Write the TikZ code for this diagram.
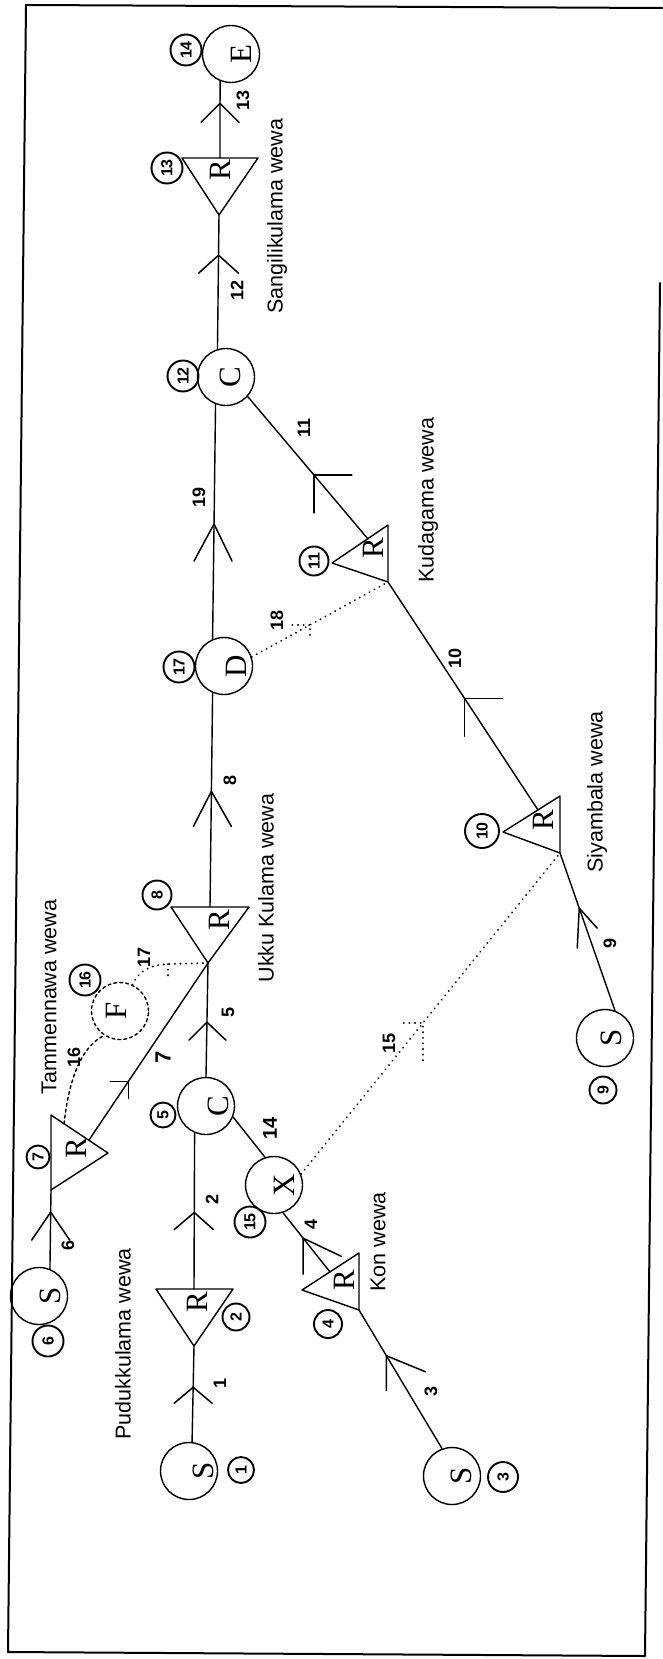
\documentclass[tikz,border=0pt]{standalone}
\usepackage{fontspec}
\setmainfont{Liberation Serif}
\setsansfont{Liberation Sans}
\newcommand{\cltr}[2]{\hspace*{#1}\rotatebox{90}{#2}}
\begin{document}
\begin{tikzpicture}[x=1pt,y=-1pt,line cap=round,line join=round,
  nd/.style={circle,draw,line width=1.4pt,minimum size=57pt,inner sep=0pt,font=\fontsize{31pt}{31pt}\selectfont},
  numc/.style={circle,draw,line width=1.9pt,minimum size=31pt,inner sep=0pt,font=\sffamily\bfseries\fontsize{16pt}{16pt}\selectfont,rotate=90},
  elab/.style={font=\sffamily\bfseries\fontsize{18pt}{18pt}\selectfont,rotate=90,inner sep=0pt},
  lake/.style={font=\sffamily\fontsize{21.5pt}{24pt}\selectfont,rotate=90,inner sep=0pt},
  rlet/.style={font=\fontsize{31pt}{31pt}\selectfont,rotate=90,inner sep=0pt},
  ln/.style={line width=1.4pt},
  chev/.style={line width=1.5pt},
  dotl/.style={line width=2pt,dash pattern=on 0.1pt off 5.5pt,line cap=round},
  dsh/.style={line width=1.4pt,dash pattern=on 3pt off 3pt}]
\useasboundingbox (0,0) rectangle (663,1659);
% frame
\draw[line width=2pt] (26,5) -- (662,8);
\draw[line width=2pt] (660,283) -- (645,1656) -- (8,1652) -- (26,5);

% circle nodes
\node[nd] (e14) at (231,54) {\cltr{20pt}{E}};
\node[nd] (c12) at (226,377) {\cltr{8pt}{C}};
\node[nd] (d17) at (224,666) {\cltr{24pt}{D}};
\node[nd] (s9) at (605,1038) {\cltr{12pt}{S}};
\node[nd,dsh] (f16) at (120,1011) {\cltr{-8pt}{F}};
\node[nd] (c5) at (206,1106) {\cltr{24pt}{C}};
\node[nd] (x15) at (274,1185) {\cltr{20pt}{X}};
\node[nd] (s6) at (39,1296) {\cltr{22pt}{S}};
\node[nd] (s1) at (189,1471) {\cltr{28pt}{S}};
\node[nd] (s3) at (452,1476) {\cltr{18pt}{S}};

% triangles
\coordinate (r13l) at (182,158); \coordinate (r13r) at (258,158); \coordinate (r13a) at (219,215); \coordinate (r13t) at (220,158);
\draw[ln] (r13l) -- (r13r) -- (r13a) -- cycle;
\node[rlet] (r13) at (220,170) {R};
\coordinate (r11a) at (332,563); \coordinate (r11t) at (388,525); \coordinate (r11c) at (388,582); \coordinate (r11e) at (368,539);
\draw[ln] (r11a) -- (r11t) -- (r11c) -- cycle;
\node[rlet] (r11) at (373,548) {R};
\coordinate (r10a) at (503,832); \coordinate (r10t) at (560,796); \coordinate (r10c) at (560,853); \coordinate (r10e) at (538,810);
\draw[ln] (r10a) -- (r10t) -- (r10c) -- cycle;
\node[rlet] (r10) at (543,820) {R};
\coordinate (r8l) at (171,907); \coordinate (r8r) at (249,907); \coordinate (r8a) at (208,963); \coordinate (r8t) at (210,907);
\draw[ln] (r8l) -- (r8r) -- (r8a) -- cycle;
\node[rlet] (r8) at (219,920) {R};
\coordinate (r7t) at (51,1115); \coordinate (r7p) at (108,1153); \coordinate (r7c) at (51,1190); \coordinate (r7e) at (89,1140); \coordinate (r7s) at (64,1124);
\draw[ln] (r7t) -- (r7p) -- (r7c) -- cycle;
\node[rlet] (r7) at (76,1148) {R};
\coordinate (r2l) at (156,1289); \coordinate (r2r) at (233,1289); \coordinate (r2a) at (194,1346); \coordinate (r2t) at (194,1289);
\draw[ln] (r2l) -- (r2r) -- (r2a) -- cycle;
\node[rlet] (r2) at (197,1302) {R};
\coordinate (r4t) at (359,1253); \coordinate (r4a) at (302,1290); \coordinate (r4c) at (359,1310); \coordinate (r4e) at (330,1272);
\draw[ln] (r4t) -- (r4a) -- (r4c) -- cycle;
\node[rlet] (r4) at (344,1280) {R};

% circled numbers
\node[numc] (l14) at (186,50) {14};
\node[numc] (l13) at (167,168) {13};
\node[numc] (l12) at (183,376) {12};
\node[numc] (l17) at (179,667) {17};
\node[numc,minimum size=29pt] (l11) at (314,561) {11};
\node[numc,minimum size=34pt] (l10) at (482,831) {10};
\node[numc,minimum size=27pt] (l9) at (603,1090) {9};
\node[numc,minimum size=29pt] (l8) at (157,895) {8};
\node[numc] (l16) at (85,980) {16};
\node[numc,minimum size=23pt] (l7) at (38,1157) {7};
\node[numc,minimum size=25pt] (l5) at (163,1115) {5};
\node[numc] (l15) at (250,1222) {15};
\node[numc] (l6) at (48,1341) {6};
\node[numc,minimum size=27pt] (l2) at (236,1317) {2};
\node[numc,minimum size=28pt] (l4) at (328,1324) {4};
\node[numc,minimum size=26pt] (l1) at (241,1470) {1};
\node[numc,minimum size=30pt] (l3) at (503,1477) {3};

% solid edges with flow marks
\draw[ln] (r13t) -- (e14.248) coordinate[pos=0.71] (k13);
\draw[chev] (k13) ++(-19,19) -- (k13) -- ++(19,19);
\draw[ln] (r13a) -- (c12.107) coordinate[pos=0.30] (k12);
\draw[chev] (k12) ++(-20,18) -- (k12) -- ++(20,18);
\draw[ln] (d17.113) -- (c12.249) coordinate[pos=0.49] (k19);
\draw[chev] (k19) ++(-20,37) -- (k19) -- ++(18,37);
\draw[ln] (r8t) -- (d17.247) coordinate[pos=0.54] (k8);
\draw[chev] (k8) ++(-18,35) -- (k8) -- ++(20,35);
\draw[ln] (c5.north) -- (r8a) coordinate[pos=0.48] (k5);
\draw[chev] (k5) ++(-18,18) -- (k5) -- ++(19,18);
\draw[ln] (r7e) -- (r8a) coordinate[pos=0.33] (k7);
\draw[chev] (k7) ++(-18,0) -- (k7) -- ++(0,17);
\draw[ln] (s6.68) -- (r7c) coordinate[pos=0.72] (k6);
\draw[chev] (k6) ++(-19,28) -- (k6) -- ++(19,28);
\draw[ln] (r2t) -- (c5.247) coordinate[pos=0.49] (k2);
\draw[chev] (k2) ++(-20,17) -- (k2) -- ++(19,17);
\draw[ln] (s1.84) -- (r2a) coordinate[pos=0.57] (k1);
\draw[chev] (k1) ++(-19,16) -- (k1) -- ++(19,16);
\draw[ln] (c5.-22) -- (x15.108);
\draw[ln] (r4e) -- (x15.-72) coordinate[pos=0.57] (k4);
\draw[chev] (k4) ++(0,36) -- (k4) -- ++(38,18);
\draw[ln] (s3.110) -- (r4c) coordinate[pos=0.67] (k3);
\draw[chev] (k3) ++(0,35) -- (k3) -- ++(39,16);
\draw[ln] (r11e) -- (c12.-42) coordinate[pos=0.45] (k11);
\draw[chev] (k11) ++(38,0) -- (k11) -- ++(0,38);
\draw[ln] (r10e) -- (r11c) coordinate[pos=0.49] (k10);
\draw[chev] (k10) ++(38,0) -- (k10) -- ++(0,38);
\draw[ln] (s9.70) -- (r10c) coordinate[pos=0.65] (k9);
\draw[chev] (k9) ++(-2,40) -- (k9) -- ++(18,20);

% dotted / dashed edges
\draw[dotl] (d17.18) -- (r11c) coordinate[pos=0.43] (k18);
\draw[dotl] (k18) ++(-18,0) -- (k18) -- ++(0,14);
\draw[dotl] (x15.22) -- (r10c) coordinate[pos=0.47] (k15);
\draw[dotl] (k15) ++(-19,0) -- (k15) -- ++(0,38);
\draw[dsh] (r7s) .. controls (70,1070) and (85,1045) .. (f16.237);
\coordinate (k17) at (168,964);
\draw[dotl] (f16.65) .. controls (140,970) and (150,965) .. (k17) -- (r8a);
\draw[dotl] (k17) -- ++(0,14);

% edge labels
\node[elab] (n13) at (243,100) {13};
\node[elab] (n12) at (237,290) {12};
\node[elab] (n19) at (199,497) {19};
\node[elab] (n8) at (230,780) {8};
\node[elab] (n11) at (304,428) {11};
\node[elab] (n18) at (277,620) {18};
\node[elab] (n10) at (455,658) {10};
\node[elab] (n9) at (610,943) {9};
\node[elab] (n17) at (144,957) {17};
\node[elab] (n16) at (74,1057) {16};
\node[elab,font=\sffamily\bfseries\fontsize{22pt}{22pt}\selectfont] (n7) at (163,1057) {7};
\node[elab] (n5) at (228,1012) {5};
\node[elab,font=\sffamily\bfseries\fontsize{20pt}{20pt}\selectfont] (n14) at (270,1128) {14};
\node[elab] (n15) at (389,1043) {15};
\node[elab] (n2) at (212,1199) {2};
\node[elab] (n4) at (311,1224) {4};
\node[elab] (n6) at (68,1245) {6};
\node[elab] (n1) at (220,1383) {1};
\node[elab] (n3) at (431,1391) {3};

% lake names
\node[lake] (t1) at (277,216) {Sangilikulama wewa};
\node[lake] (t2) at (428,500) {Kudagama wewa};
\node[lake] (t3) at (597,792) {Siyambala wewa};
\node[lake] (t4) at (266,888) {Ukku Kulama wewa};
\node[lake] (t5) at (49,997) {Tammennawa wewa};
\node[lake] (t6) at (378,1242) {Kon wewa};
\node[lake] (t7) at (123,1344) {Pudukkulama wewa};
\end{tikzpicture}
\end{document}
